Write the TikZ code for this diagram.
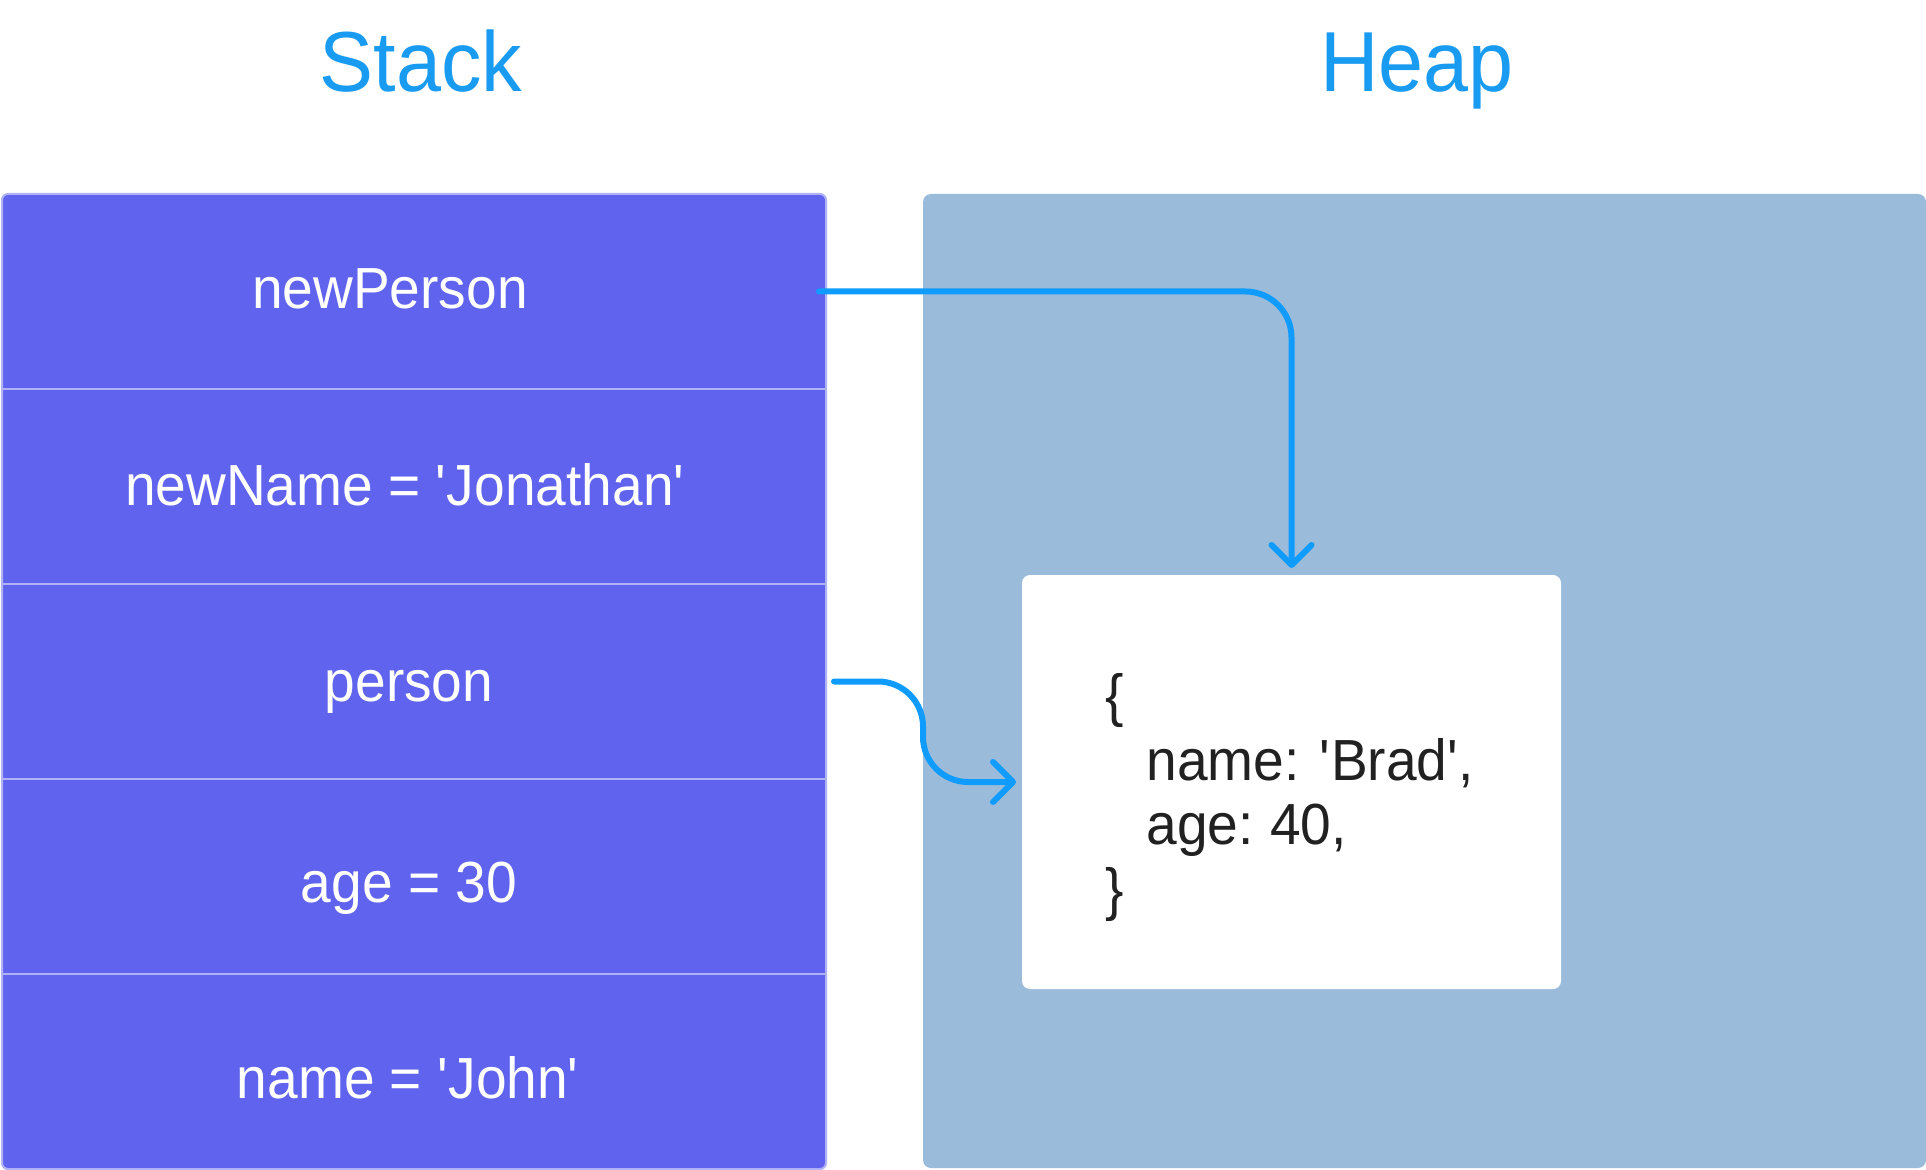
\documentclass[tikz,border=0pt]{standalone}
\usepackage{fontspec}
\setmainfont[FakeStretch=0.95]{Liberation Sans}
\usetikzlibrary{arrows.meta}
\definecolor{stackfill}{HTML}{5F63EE}
\definecolor{stackline}{HTML}{B0B2F6}
\definecolor{heapfill}{HTML}{9BBBDB}
\definecolor{titleblue}{HTML}{1A9BF2}
\definecolor{arrowblue}{HTML}{109CFF}
\definecolor{codetext}{HTML}{212121}
\newcommand{\sq}{\textquotesingle}
\begin{document}
\begin{tikzpicture}[x=0.5pt,y=-0.5pt,
  title/.style={text=titleblue, font=\fontsize{42.6pt}{50pt}\selectfont, anchor=base, inner sep=0pt},
  rowbox/.style={minimum width=412pt, minimum height=97.5pt, inner sep=0pt, outer sep=0pt, anchor=north west},
  rowtext/.style={text=white, font=\fontsize{29pt}{35pt}\selectfont, anchor=base, inner sep=0pt},
  divider/.style={draw=stackline, line width=0.8pt},
  code/.style={text=codetext, font=\fontsize{29pt}{35pt}\selectfont, anchor=base west, inner sep=0pt},
  arrow/.style={draw=arrowblue, line width=3pt, line cap=round, line join=round,
    -{Straight Barb[length=10pt, width=20pt, round]}}]
\useasboundingbox (0,0) rectangle (1926,1170);
% titles
\node[title] (tstack) at (421,92) {Stack};
\node[title] (theap) at (1417,92) {Heap};
% stack
\node[draw=stackline, line width=1pt, fill=stackfill, rounded corners=3pt,
  minimum width=412pt, minimum height=487.5pt, inner sep=0pt, outer sep=0pt,
  anchor=north west] (stack) at (2,194) {};
\node[rowbox] (np) at (2,194) {};
\node[rowbox] (nn) at (2,389) {};
\node[rowbox] (person) at (2,584) {};
\node[rowbox] (age) at (2,779) {};
\node[rowbox] (name) at (2,974) {};
\draw[divider] (np.south west) -- (np.south east);
\draw[divider] (nn.south west) -- (nn.south east);
\draw[divider] (person.south west) -- (person.south east);
\draw[divider] (age.south west) -- (age.south east);
\node[rowtext] (tnp) at (390,309) {newPerson};
\node[rowtext] (tnn) at (405,506) {newName = \sq Jonathan\sq};
\node[rowtext] (tperson) at (409,701) {person};
\node[rowtext] (tage) at (409,902) {age = 30};
\node[rowtext] (tname) at (408,1098) {name = \sq John\sq};
% heap
\node[fill=heapfill, rounded corners=4pt, minimum width=501.5pt, minimum height=487pt,
  inner sep=0pt, outer sep=0pt, anchor=north west] (heap) at (923,194) {};
\node[fill=white, rounded corners=4pt, minimum width=269.5pt, minimum height=207pt,
  inner sep=0pt, outer sep=0pt, anchor=north west] (obj) at (1022,575) {};
\node[code] (lb) at (1105,715) {\{};
\node[code] (l1) at (1146,780) {name: \sq Brad\sq,};
\node[code] (l2) at (1146,844) {age:\hspace{-2pt} 40,};
\node[code] (rb) at (1105,909) {\}};
% arrows
\draw[arrow, rounded corners=23pt] ([xshift=-3.5pt]np.east) -| ([yshift=3.5pt]obj.north);
\draw[arrow, rounded corners=22.5pt] ([xshift=4pt]person.east) -- (person.east -| heap.west)
  -- (heap.west |- obj.west) -- ([xshift=-3pt]obj.west);
\end{tikzpicture}
\end{document}
